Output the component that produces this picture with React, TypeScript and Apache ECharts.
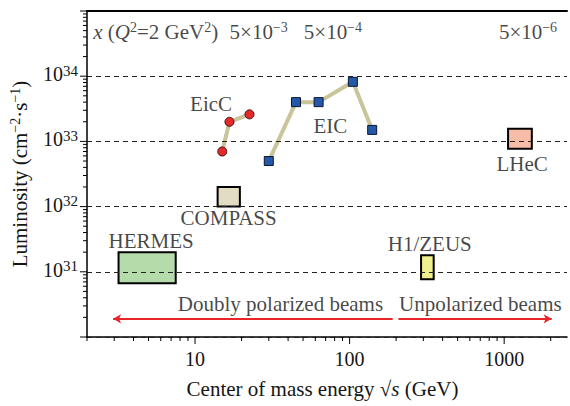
import React, { useEffect, useRef } from 'react';
import * as echarts from 'echarts';

const FONT = "'Liberation Serif', 'Times New Roman', serif";
const INK = '#151515';

// EicC and EIC design points (sqrt(s) in GeV, luminosity in cm^-2 s^-1)
const eiccEnergy = [15, 16.7, 22.5];
const eiccLumi = [7e32, 2e33, 2.6e33];
const eicEnergy = [30, 45, 63, 105, 140];
const eicLumi = [5e32, 4e33, 4e33, 8.2e33, 1.5e33];

// Facility boxes
const boxNames = ['HERMES', 'COMPASS', 'H1/ZEUS', 'LHeC'];
const boxEnergyLo = [3.2, 14, 290, 1060];
const boxEnergyHi = [7.5, 19.5, 350, 1510];
const boxLumiLo = [6.7e30, 1e32, 7.7e30, 7.7e32];
const boxLumiHi = [2e31, 2e32, 1.8e31, 1.57e33];
const boxColors = ['#b5dbaa', '#e2ddc2', '#eef08f', '#f8bda8'];

// Text annotations
const labelTexts = [
  'EicC', 'EIC', 'LHeC', 'COMPASS', 'HERMES', 'H1/ZEUS',
  'Doubly polarized beams', 'Unpolarized beams',
  '{i|x} ({i|Q}{sup|2}=2 GeV{sup|2})',
  '5×10{sup|−3}', '5×10{sup|−4}', '5×10{sup|−6}',
];
const labelEnergy = [12.7, 75, 1306, 16.5, 5.2, 330, 35.7, 701, 2.18, 25.8, 78, 1426];
const labelLumi = [3.7e33, 1.7e33, 4.5e32, 6.8e31, 2.95e31, 2.66e31, 3.2e30, 3.2e30, 4.7e34, 4.7e34, 4.7e34, 4.7e34];
const labelLeftAligned = [false, false, false, false, false, false, false, false, true, false, false, false];

// Arrows (polarization ranges)
const arrowFrom = [190, 207];
const arrowTo = [2.95, 2030];
const arrowLumi = 1.9e30;

// Axes
const X_MIN = 2;
const X_MAX = 2550;
const Y_MIN = 1e30;
const Y_MAX = 1e35;
const xTickLabels = [10, 100, 1000];
const yTickExponents = [31, 32, 33, 34];

const xTicks: number[][] = [];
[1, 10, 100, 1000].forEach((d) => {
  for (let k = 1; k <= 9; k++) {
    const v = k * d;
    if (v >= X_MIN && v <= 2000) xTicks.push([v, Y_MIN, k === 1 ? 1 : 0]);
  }
});
const yTicks: number[][] = [];
for (let e = 30; e <= 34; e++) {
  for (let k = 1; k <= 9; k++) yTicks.push([X_MIN, k * Math.pow(10, e), k === 1 ? 1 : 0]);
}
yTicks.push([X_MIN, Y_MAX, 1]);

const supRich = {
  sup: { fontSize: 14, fontFamily: FONT, color: INK, verticalAlign: 'top', lineHeight: 12 },
  i: { fontSize: 21, fontFamily: FONT, color: INK, fontStyle: 'italic', lineHeight: 24 },
};

export default function App() {
  const ref = useRef<HTMLDivElement>(null);
  useEffect(() => {
    document.body.style.margin = '0';
    if (!ref.current) return;
    const chart = echarts.init(ref.current, undefined, { renderer: 'svg' });
    const isPow = (v: number) => Math.abs(Math.log10(v) - Math.round(Math.log10(v))) < 1e-6;

    const option: any = {
      animation: false,
      backgroundColor: '#fff',
      grid: { left: 87, right: 0, top: 11, bottom: 63, containLabel: false },
      xAxis: [
        {
          type: 'log',
          min: X_MIN,
          max: X_MAX,
          axisLine: { show: true, lineStyle: { color: '#000', width: 1.5 } },
          axisTick: { show: false },
          splitLine: { show: false },
          axisLabel: {
            margin: 12,
            fontSize: 20,
            fontFamily: FONT,
            color: INK,
            formatter: (v: number) => {
              if (!isPow(v)) return '';
              const r = Math.round(v);
              return xTickLabels.indexOf(r) >= 0 ? String(r) : '';
            },
          },
          name: 'Center of mass energy {sq|√}{i|s} (GeV)',
          nameLocation: 'middle',
          nameGap: 40,
          nameTextStyle: {
            fontSize: 21,
            fontFamily: FONT,
            color: INK,
            lineHeight: 24,
            padding: [0, 9, 0, 0],
            rich: {
              sq: { fontSize: 21, fontFamily: FONT, color: INK, lineHeight: 24 },
              i: { fontSize: 21, fontFamily: FONT, color: INK, fontStyle: 'italic', lineHeight: 24 },
            },
          },
        },
        {
          type: 'log',
          position: 'top',
          min: X_MIN,
          max: X_MAX,
          axisLine: { show: true, lineStyle: { color: '#000', width: 2 } },
          axisTick: { show: false },
          axisLabel: { show: false },
          splitLine: { show: false },
        },
      ],
      yAxis: {
        type: 'log',
        min: Y_MIN,
        max: Y_MAX,
        z: 5,
        axisLine: { show: true, lineStyle: { color: '#000', width: 1.5 } },
        axisTick: { show: false },
        splitLine: {
          show: true,
          showMinLine: false,
          showMaxLine: false,
          lineStyle: { color: '#222', width: 1.2, type: [5, 4] },
        },
        axisLabel: {
          margin: 9,
          fontSize: 20,
          fontFamily: FONT,
          color: INK,
          lineHeight: 22,
          padding: [0, 0, 4, 0],
          formatter: (v: number) => {
            const e = Math.round(Math.log10(v));
            return yTickExponents.indexOf(e) >= 0 ? `10{sup|${e}}` : '';
          },
          rich: {
            sup: { fontSize: 15, fontFamily: FONT, color: INK, verticalAlign: 'top', lineHeight: 12 },
          },
        },
        name: 'Luminosity (cm{sup|−2}·s{sup|−1})',
        nameLocation: 'middle',
        nameGap: 51,
        nameTextStyle: {
          fontSize: 21,
          fontFamily: FONT,
          color: INK,
          lineHeight: 24,
          rich: { sup: { fontSize: 14, fontFamily: FONT, color: INK, verticalAlign: 'top', lineHeight: 12 } },
        },
      },
      series: [
        // ticks on x
        {
          type: 'custom',
          silent: true,
          clip: false,
          z: 6,
          data: xTicks,
          encode: { x: 0, y: 1 },
          renderItem: (_p: any, api: any) => {
            const pt = api.coord([api.value(0), Y_MIN]);
            const len = api.value(2) ? 7 : 4;
            return {
              type: 'line',
              shape: { x1: pt[0], y1: pt[1], x2: pt[0], y2: pt[1] + len },
              style: { stroke: '#000', lineWidth: 1 },
            };
          },
        },
        // ticks on y
        {
          type: 'custom',
          silent: true,
          clip: false,
          z: 6,
          data: yTicks,
          encode: { x: 0, y: 1 },
          renderItem: (_p: any, api: any) => {
            const pt = api.coord([X_MIN, api.value(1)]);
            const len = api.value(2) ? 7 : 4;
            return {
              type: 'line',
              shape: { x1: pt[0], y1: pt[1], x2: pt[0] - len, y2: pt[1] },
              style: { stroke: '#000', lineWidth: 1 },
            };
          },
        },
        // facility boxes
        {
          type: 'custom',
          silent: true,
          z: 2,
          data: boxNames.map((n, i) => ({ name: n, value: [boxEnergyLo[i], boxEnergyHi[i], boxLumiLo[i], boxLumiHi[i]] })),
          encode: { x: [0, 1], y: [2, 3] },
          renderItem: (params: any, api: any) => {
            const a = api.coord([api.value(0), api.value(3)]);
            const b = api.coord([api.value(1), api.value(2)]);
            return {
              type: 'rect',
              shape: { x: a[0], y: a[1], width: b[0] - a[0], height: b[1] - a[1] },
              style: { fill: boxColors[params.dataIndex], stroke: '#000', lineWidth: 2 },
            };
          },
        },
        // EicC
        {
          type: 'line',
          z: 3,
          data: eiccEnergy.map((x, i) => [x, eiccLumi[i]]),
          lineStyle: { color: '#cac49a', width: 4 },
          symbol: 'circle',
          symbolSize: 9,
          itemStyle: { color: '#e8292b', borderColor: '#3a1010', borderWidth: 1 },
        },
        // EIC
        {
          type: 'line',
          z: 3,
          data: eicEnergy.map((x, i) => [x, eicLumi[i]]),
          lineStyle: { color: '#cac49a', width: 4 },
          symbol: 'rect',
          symbolSize: 9,
          itemStyle: { color: '#2459a9', borderColor: '#0b1530', borderWidth: 1 },
          markLine: {
            silent: true,
            symbol: ['none', 'arrow'],
            symbolSize: [7, 8],
            label: { show: false },
            lineStyle: { color: '#e8262a', width: 2, type: 'solid' },
            data: arrowFrom.map((f, i) => [
              { coord: [f, arrowLumi] },
              { coord: [arrowTo[i], arrowLumi] },
            ]),
          },
        },
        // text annotations
        {
          type: 'scatter',
          z: 7,
          silent: true,
          symbolSize: 1,
          itemStyle: { color: 'rgba(0,0,0,0)' },
          data: labelTexts.map((t, i) => ({
            name: t,
            value: [labelEnergy[i], labelLumi[i]],
            label: labelLeftAligned[i] ? { position: 'right', distance: 0 } : { position: 'inside' },
          })),
          label: {
            show: true,
            formatter: (p: any) => p.name,
            fontSize: 21,
            fontFamily: FONT,
            color: INK,
            lineHeight: 24,
            rich: supRich,
          },
        },
      ],
    };
    chart.setOption(option);
    return () => chart.dispose();
  }, []);
  return <div ref={ref} style={{ width: 570, height: 406 }} />;
}
